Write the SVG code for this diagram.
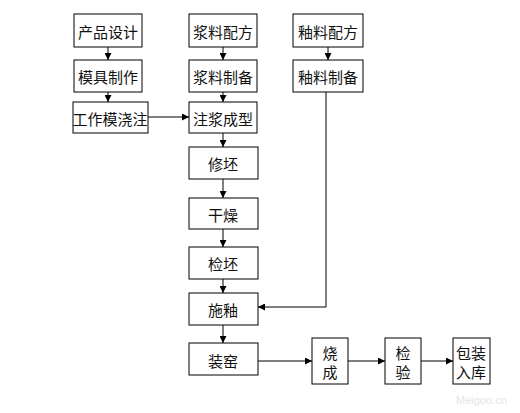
<svg xmlns="http://www.w3.org/2000/svg" width="520" height="413" viewBox="0 0 520 413">
<defs>
<style>
.box{fill:#fff;stroke:#000;stroke-width:1}
.t{font-family:"Noto Sans CJK SC","Noto Sans",sans-serif;font-size:15px;fill:#111;text-anchor:middle;dominant-baseline:central}
.c{fill:none;stroke:#000;stroke-width:1}
.wm{font-family:"Liberation Sans",sans-serif;font-size:11px;fill:#e4e4e4}
</style>
<marker id="a" viewBox="0 0 8 8" refX="8" refY="4" markerWidth="7" markerHeight="7" markerUnits="userSpaceOnUse" orient="auto">
<path d="M0,0 L8,4 L0,8 z" fill="#000"/>
</marker>
</defs>
<rect width="520" height="413" fill="#fff"/>
<g id="connectors">
<line class="c" x1="108" y1="47" x2="108" y2="60" marker-end="url(#a)"/>
<line class="c" x1="108" y1="92" x2="108" y2="102" marker-end="url(#a)"/>
<line class="c" x1="148" y1="117" x2="189" y2="117" marker-end="url(#a)"/>
<line class="c" x1="223" y1="47" x2="223" y2="60" marker-end="url(#a)"/>
<line class="c" x1="223" y1="92" x2="223" y2="102" marker-end="url(#a)"/>
<line class="c" x1="223" y1="133" x2="223" y2="147" marker-end="url(#a)"/>
<line class="c" x1="223" y1="179" x2="223" y2="198" marker-end="url(#a)"/>
<line class="c" x1="223" y1="229" x2="223" y2="247" marker-end="url(#a)"/>
<line class="c" x1="223" y1="279" x2="223" y2="293" marker-end="url(#a)"/>
<line class="c" x1="223" y1="325" x2="223" y2="343" marker-end="url(#a)"/>
<line class="c" x1="328" y1="47" x2="328" y2="60" marker-end="url(#a)"/>
<polyline class="c" points="326,92 326,307 258,307" marker-end="url(#a)"/>
<line class="c" x1="258" y1="361" x2="312" y2="361" marker-end="url(#a)"/>
<line class="c" x1="348" y1="361" x2="385" y2="361" marker-end="url(#a)"/>
<line class="c" x1="421" y1="361" x2="453" y2="361" marker-end="url(#a)"/>
</g>
<g id="n1"><rect class="box" x="74" y="14" width="68" height="33"/><text class="t" x="108" y="31">产品设计</text></g>
<g id="n2"><rect class="box" x="74" y="60" width="68" height="32"/><text class="t" x="108" y="76">模具制作</text></g>
<g id="n3"><rect class="box" x="73" y="102" width="75" height="31"/><text class="t" x="110" y="118">工作模浇注</text></g>
<g id="n4"><rect class="box" x="189" y="14" width="68" height="33"/><text class="t" x="223" y="31">浆料配方</text></g>
<g id="n5"><rect class="box" x="189" y="60" width="68" height="32"/><text class="t" x="223" y="76">浆料制备</text></g>
<g id="n6"><rect class="box" x="189" y="102" width="68" height="31"/><text class="t" x="223" y="118">注浆成型</text></g>
<g id="n7"><rect class="box" x="293" y="14" width="70" height="33"/><text class="t" x="328" y="31">釉料配方</text></g>
<g id="n8"><rect class="box" x="293" y="60" width="70" height="32"/><text class="t" x="328" y="76">釉料制备</text></g>
<g id="n9"><rect class="box" x="189" y="147" width="69" height="32"/><text class="t" x="223" y="163">修坯</text></g>
<g id="n10"><rect class="box" x="189" y="198" width="69" height="31"/><text class="t" x="223" y="214">干燥</text></g>
<g id="n11"><rect class="box" x="189" y="247" width="69" height="32"/><text class="t" x="223" y="263">检坯</text></g>
<g id="n12"><rect class="box" x="189" y="293" width="69" height="32"/><text class="t" x="223" y="309">施釉</text></g>
<g id="n13"><rect class="box" x="189" y="343" width="69" height="32"/><text class="t" x="223" y="360">装窑</text></g>
<g id="n14"><rect class="box" x="312" y="338" width="36" height="46"/><text class="t" x="330" y="352">烧</text><text class="t" x="330" y="371">成</text></g>
<g id="n15"><rect class="box" x="385" y="338" width="36" height="46"/><text class="t" x="403" y="352">检</text><text class="t" x="403" y="371">验</text></g>
<g id="n16"><rect class="box" x="453" y="338" width="37" height="46"/><text class="t" x="471" y="352">包装</text><text class="t" x="471" y="371">入库</text></g>
<text class="wm" x="456" y="404">Meigoo.cn</text>
</svg>
